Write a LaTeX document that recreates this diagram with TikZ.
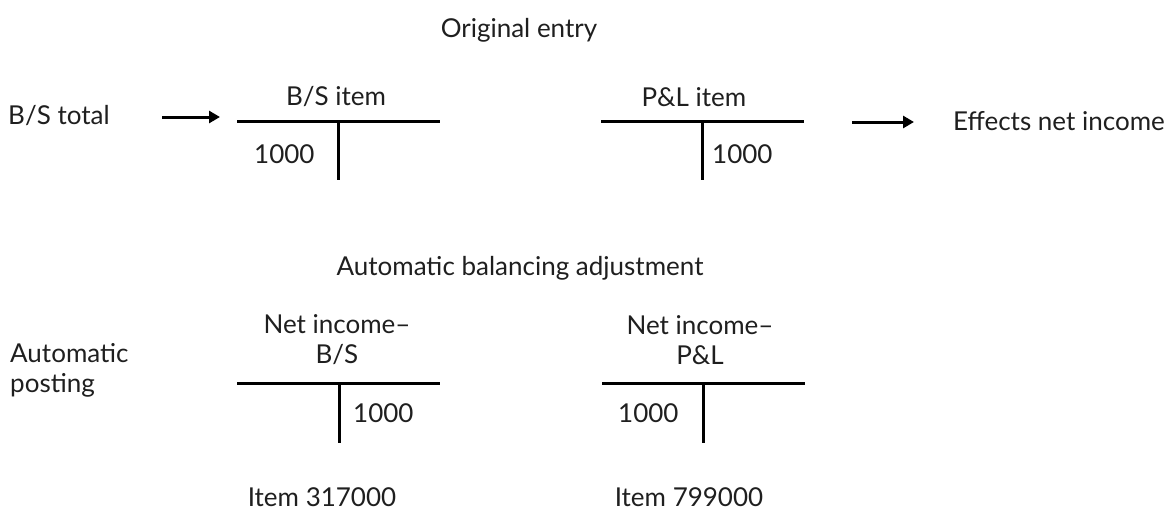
\documentclass[tikz,border=0pt]{standalone}
\usepackage{fontspec}
\setmainfont{Lato}
\usetikzlibrary{arrows.meta}
\tikzset{
  txt/.style={inner sep=0pt, font=\fontsize{26}{30}\selectfont, text=black!88},
  tline/.style={line width=3pt, black},
  flow/.style={line width=3pt, -{Triangle[length=11pt,width=12pt]}}
}
\begin{document}
\begin{tikzpicture}[x=1pt,y=-1pt]
\useasboundingbox (0,0) rectangle (1171,512);
% headings
\node[txt] (orig) at (519,30) {Original entry};
\node[txt] (auto) at (520,268) {Automatic balancing adjustment};
% top row
\node[txt, anchor=west] (bstotal) at (8,116) {B/S total};
\coordinate (a1s) at (162,117);
\coordinate (a1e) at (220,117);
\draw[flow] (a1s) -- (a1e);
% B/S item account
\coordinate (bsl) at (237,121);
\coordinate (bsr) at (440,121);
\coordinate (bsv) at (338,121);
\coordinate (bsb) at (338,180);
\draw[tline] (bsl) -- (bsr);
\draw[tline] (bsv) -- (bsb);
\node[txt] (bsitem) at (336,97) {B/S item};
\node[txt, anchor=west] (bsamt) at (254,154) {1000};
% P&L item account
\coordinate (pll) at (601,121);
\coordinate (plr) at (804,121);
\coordinate (plv) at (702,121);
\coordinate (plb) at (702,180);
\draw[tline] (pll) -- (plr);
\draw[tline] (plv) -- (plb);
\node[txt] (plitem) at (694,97) {P\&L item};
\node[txt, anchor=west] (plamt) at (712,154) {1000};
\coordinate (a2s) at (852,122);
\coordinate (a2e) at (914,122);
\draw[flow] (a2s) -- (a2e);
\node[txt, anchor=west] (effects) at (953,121) {Effects net income};
% bottom row
\node[txt, anchor=west, align=left] (autopost) at (10,370) {Automatic\\posting};
\coordinate (nbl) at (237,383);
\coordinate (nbr) at (440,383);
\coordinate (nbv) at (339,383);
\coordinate (nbb) at (339,443);
\draw[tline] (nbl) -- (nbr);
\draw[tline] (nbv) -- (nbb);
\node[txt, align=center] (nbtitle) at (337,340) {Net income--\\B/S};
\node[txt, anchor=west] (nbamt) at (353,413) {1000};
\node[txt] (nbitem) at (322,497) {Item 317000};
\coordinate (npl) at (602,383);
\coordinate (npr) at (805,383);
\coordinate (npv) at (703,383);
\coordinate (npb) at (703,443);
\draw[tline] (npl) -- (npr);
\draw[tline] (npv) -- (npb);
\node[txt, align=center] (nptitle) at (700,340) {Net income--\\P\&L};
\node[txt, anchor=west] (npamt) at (618,413) {1000};
\node[txt] (npitem) at (689,497) {Item 799000};
\end{tikzpicture}
\end{document}
